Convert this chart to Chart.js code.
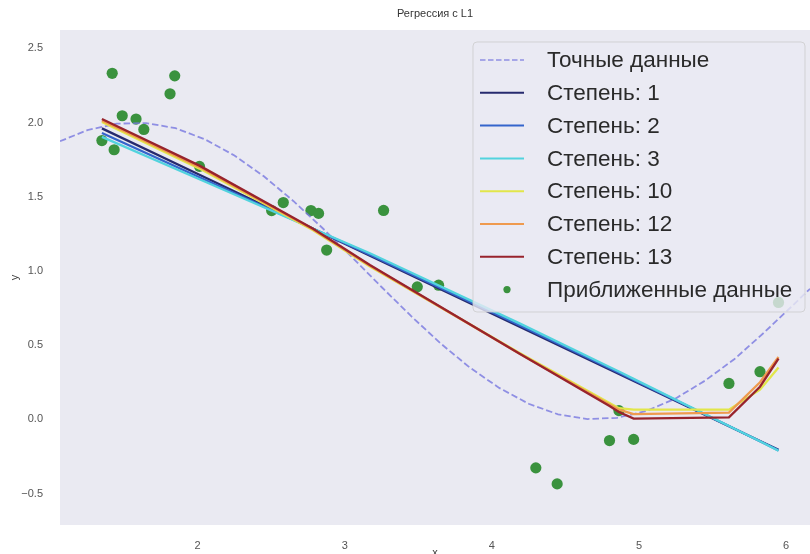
<!DOCTYPE html>
<html><head><meta charset="utf-8">
<script src="https://cdn.jsdelivr.net/npm/chart.js@4.4.0/dist/chart.umd.min.js"></script>
<style>html,body{margin:0;padding:0;background:#fff;}</style>
</head><body>
<canvas id="c" width="810" height="554"></canvas>
<script>
const titleText = 'Регрессия с L1';
const xTicks = [2, 3, 4, 5, 6];
const yTicks = [-0.5, 0, 0.5, 1, 1.5, 2, 2.5];

// exact curve (dashed)
const exactX = [1.064, 1.25, 1.45, 1.65, 1.85, 2.05, 2.25, 2.45, 2.65, 2.85, 3.05, 3.25, 3.45, 3.65, 3.85, 4.05, 4.25, 4.45, 4.65, 4.85, 5.05, 5.25, 5.45, 5.65, 5.85, 6.05, 6.163];
const exactY = [1.874, 1.949, 1.993, 1.997, 1.962, 1.887, 1.778, 1.638, 1.472, 1.288, 1.092, 0.892, 0.697, 0.513, 0.349, 0.212, 0.105, 0.034, 0.002, 0.010, 0.056, 0.141, 0.261, 0.407, 0.584, 0.772, 0.880];

// noisy samples
const pointsX = [1.349, 1.419, 1.432, 1.487, 1.581, 1.634, 1.812, 1.844, 2.012, 2.503, 2.582, 2.770, 2.822, 2.877, 3.264, 3.493, 3.638, 4.299, 4.444, 4.800, 4.864, 4.964, 5.612, 5.823, 5.949];
const pointsY = [1.879, 2.332, 1.817, 2.046, 2.024, 1.954, 2.194, 2.315, 1.705, 1.407, 1.461, 1.407, 1.388, 1.141, 1.408, 0.893, 0.904, -0.327, -0.435, -0.143, 0.059, -0.135, 0.242, 0.321, 0.788];

// fitted curves, evaluated at these x values
const fitX  = [1.349, 2.012, 2.785, 3.171, 4.192, 4.800, 4.864, 4.964, 5.612, 5.823, 5.949];
const deg1  = [1.961, 1.649, 1.285, 1.103, 0.622, 0.336, 0.306, 0.259, -0.046, -0.146, -0.205];
const deg2  = [1.930, 1.632, 1.285, 1.110, 0.633, 0.344, 0.314, 0.266, -0.045, -0.147, -0.209];
const deg3  = [1.904, 1.618, 1.285, 1.119, 0.645, 0.353, 0.322, 0.273, -0.045, -0.148, -0.212];
const deg10 = [2.005, 1.690, 1.275, 1.030, 0.445, 0.110, 0.075, 0.065, 0.065, 0.200, 0.350];
const deg12 = [2.015, 1.700, 1.280, 1.035, 0.440, 0.100, 0.065, 0.035, 0.045, 0.250, 0.420];
const deg13 = [2.024, 1.710, 1.285, 1.040, 0.440, 0.090, 0.050, 0.005, 0.013, 0.220, 0.410];

const labels = ['Точные данные', 'Степень: 1', 'Степень: 2', 'Степень: 3', 'Степень: 10', 'Степень: 12', 'Степень: 13', 'Приближенные данные'];

const FONT = '"Liberation Sans", Arial, sans-serif';
const pairs = (xs, ys) => xs.map((x, i) => ({x: x, y: ys[i]}));

function fitSet(label, ys, color, order) {
  return {label, data: pairs(fitX, ys), borderColor: color, backgroundColor: color,
    borderWidth: 2.3, pointRadius: 0, showLine: true, tension: 0, order};
}

const datasets = [
  {label: labels[0], data: pairs(exactX, exactY), borderColor: 'rgba(120,120,224,0.8)', backgroundColor: 'rgba(120,120,224,0.8)',
   borderWidth: 1.8, borderDash: [6.5, 3], pointRadius: 0, showLine: true, tension: 0, order: 9},
  fitSet(labels[1], deg1, '#262a6e', 8),
  fitSet(labels[2], deg2, '#3465cc', 7),
  fitSet(labels[3], deg3, '#52d3de', 6),
  fitSet(labels[4], deg10, '#e2e64a', 5),
  fitSet(labels[5], deg12, '#ef9a4e', 4),
  fitSet(labels[6], deg13, '#98232c', 3),
  {label: labels[7], data: pairs(pointsX, pointsY), borderColor: '#3a923e', backgroundColor: '#3a923e',
   borderWidth: 0, pointRadius: 5.6, showLine: false, order: 10}
];

const bgPlugin = {
  id: 'bg',
  beforeDraw(chart) {
    const ctx = chart.ctx, a = chart.chartArea;
    ctx.save();
    ctx.fillStyle = '#ffffff';
    ctx.fillRect(0, 0, chart.width, chart.height);
    ctx.fillStyle = '#EAEAF2';
    ctx.fillRect(a.left, a.top, a.right - a.left, a.bottom - a.top);
    ctx.restore();
  }
};

const legendPlugin = {
  id: 'boxLegend',
  afterDatasetsDraw(chart) {
    const ctx = chart.ctx, a = chart.chartArea;
    const x1 = a.right - 5, y0 = a.top + 12, x0 = x1 - 332, y1 = y0 + 270, r = 4;
    ctx.save();
    ctx.beginPath();
    ctx.moveTo(x0 + r, y0);
    ctx.lineTo(x1 - r, y0); ctx.arcTo(x1, y0, x1, y0 + r, r);
    ctx.lineTo(x1, y1 - r); ctx.arcTo(x1, y1, x1 - r, y1, r);
    ctx.lineTo(x0 + r, y1); ctx.arcTo(x0, y1, x0, y1 - r, r);
    ctx.lineTo(x0, y0 + r); ctx.arcTo(x0, y0, x0 + r, y0, r);
    ctx.closePath();
    ctx.fillStyle = 'rgba(234,234,242,0.8)';
    ctx.fill();
    ctx.strokeStyle = 'rgba(204,204,204,0.8)';
    ctx.lineWidth = 1;
    ctx.stroke();
    chart.data.datasets.forEach((ds, i) => {
      const cy = y0 + 18 + i * 32.8;
      if (ds.showLine === false) {
        ctx.beginPath();
        ctx.fillStyle = ds.backgroundColor;
        ctx.arc(x0 + 34, cy, 3.6, 0, Math.PI * 2);
        ctx.fill();
      } else {
        ctx.beginPath();
        ctx.strokeStyle = ds.borderColor;
        ctx.lineWidth = i === 0 ? 1.5 : 2;
        ctx.setLineDash(ds.borderDash ? [5.5, 2.5] : []);
        ctx.moveTo(x0 + 7, cy);
        ctx.lineTo(x0 + 51, cy);
        ctx.stroke();
        ctx.setLineDash([]);
      }
      ctx.fillStyle = '#2a2a2a';
      ctx.font = '22.5px ' + FONT;
      ctx.textBaseline = 'middle';
      ctx.textAlign = 'left';
      ctx.fillText(ds.label, x0 + 74, cy + 1);
    });
    ctx.restore();
  }
};

new Chart(document.getElementById('c'), {
  type: 'scatter',
  data: {datasets},
  plugins: [bgPlugin, legendPlugin],
  options: {
    responsive: false,
    devicePixelRatio: 1,
    animation: false,
    layout: {autoPadding: false, padding: {left: 0, right: 0, top: 0, bottom: 0}},
    plugins: {
      legend: {display: false},
      tooltip: {enabled: false},
      title: {display: true, text: titleText, fullSize: false, color: '#333333',
        font: {family: FONT, size: 11, weight: 'normal', lineHeight: 1.2},
        padding: {top: 7, bottom: 9.8}}
    },
    scales: {
      x: {
        type: 'linear', min: 1.064, max: 6.163,
        grid: {display: false}, border: {display: false},
        afterBuildTicks: s => { s.ticks = xTicks.map(v => ({value: v})); },
        afterFit: s => { s.height = 29; },
        ticks: {color: '#555555', font: {family: FONT, size: 11}, padding: 6, maxRotation: 0},
        title: {display: true, text: 'x', color: '#444444', font: {family: FONT, size: 11, lineHeight: 0.2}, padding: 0}
      },
      y: {
        type: 'linear', min: -0.712, max: 2.624,
        grid: {display: false}, border: {display: false},
        afterBuildTicks: s => { s.ticks = yTicks.map(v => ({value: v})); },
        afterFit: s => { s.width = 60; },
        ticks: {color: '#555555', font: {family: FONT, size: 11}, padding: 9,
          callback: v => (v < 0 ? '\u2212' + Math.abs(v).toFixed(1) : v.toFixed(1))},
        title: {display: true, text: 'y', color: '#444444', font: {family: FONT, size: 11, lineHeight: 1.2}, padding: {top: 8.4, bottom: 0}}
      }
    }
  }
});
</script>
</body></html>
